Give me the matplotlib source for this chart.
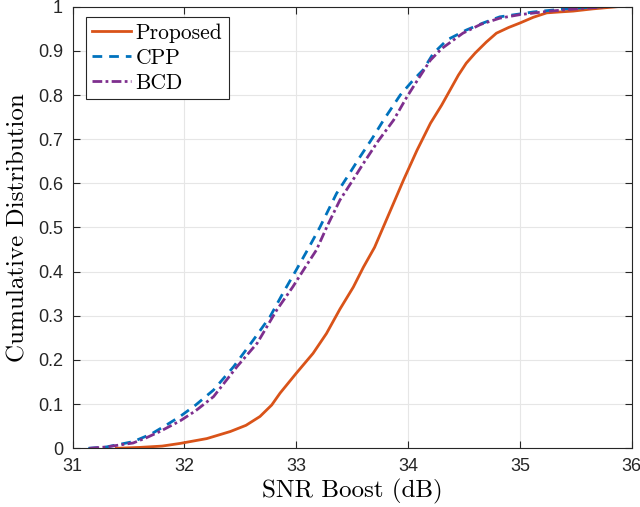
import matplotlib
matplotlib.use("Agg")
import matplotlib.pyplot as plt

# ---- data ----
proposed_x = [31.39, 31.6, 31.8, 31.96, 32.2, 32.41, 32.55, 32.675, 32.78, 32.855, 33.0, 33.15, 33.27,
              33.39, 33.51, 33.6, 33.7, 33.78, 33.87, 33.96, 34.08, 34.2, 34.3, 34.375, 34.45, 34.52,
              34.6, 34.7, 34.79, 34.9, 35.0, 35.12, 35.24, 35.35, 35.475, 35.65, 35.87]
proposed_y = [0.0, 0.002, 0.005, 0.011, 0.022, 0.038, 0.052, 0.072, 0.098, 0.125, 0.17, 0.215, 0.26,
              0.315, 0.365, 0.41, 0.455, 0.502, 0.555, 0.608, 0.675, 0.736, 0.777, 0.811, 0.845, 0.872,
              0.895, 0.92, 0.94, 0.953, 0.963, 0.976, 0.986, 0.988, 0.99, 0.995, 1.0]

cpp_x = [31.14, 31.3, 31.54, 31.7, 31.84, 31.96, 32.1, 32.26, 32.44, 32.615, 32.765, 32.88, 33.0,
         33.1, 33.21, 33.36, 33.47, 33.57, 33.68, 33.78, 33.93, 34.05, 34.135, 34.225, 34.35, 34.52,
         34.67, 34.82, 35.12, 35.4, 35.72]
cpp_y = [0.0, 0.003, 0.015, 0.032, 0.053, 0.072, 0.098, 0.132, 0.185, 0.245, 0.298, 0.351, 0.404,
         0.449, 0.5, 0.577, 0.62, 0.66, 0.702, 0.743, 0.8, 0.835, 0.857, 0.894, 0.925, 0.947,
         0.963, 0.977, 0.988, 0.995, 1.0]

bcd_x = [31.15, 31.3, 31.54, 31.66, 31.78, 31.96, 32.1, 32.26, 32.47, 32.65, 32.825, 32.97, 33.08,
         33.18, 33.28, 33.39, 33.5, 33.6, 33.73, 33.87, 33.99, 34.1, 34.2, 34.3, 34.49, 34.65,
         34.82, 35.0, 35.27, 35.5, 35.78]
bcd_y = [0.0, 0.003, 0.012, 0.024, 0.038, 0.062, 0.085, 0.117, 0.185, 0.238, 0.313, 0.366, 0.41,
         0.449, 0.505, 0.562, 0.605, 0.645, 0.695, 0.743, 0.796, 0.84, 0.879, 0.905, 0.94, 0.96,
         0.974, 0.982, 0.99, 0.995, 1.0]

xticks = [31, 32, 33, 34, 35, 36]
yticks = [0, 0.1, 0.2, 0.3, 0.4, 0.5, 0.6, 0.7, 0.8, 0.9, 1]
ytick_labels = ["0", "0.1", "0.2", "0.3", "0.4", "0.5", "0.6", "0.7", "0.8", "0.9", "1"]

# ---- figure ----
fig = plt.figure(figsize=(6.4, 5.07), dpi=100)
ax = fig.add_axes([0.1136, 0.1158, 0.8734, 0.871])

c_prop = "#D95319"
c_cpp = "#0072BD"
c_bcd = "#7E2F8E"

ax.plot(proposed_x, proposed_y, color=c_prop, lw=2.0, ls="-", label="Proposed")
ax.plot(cpp_x, cpp_y, color=c_cpp, lw=2.0, ls=(0, (3.5, 2.5)), label="CPP")
ax.plot(bcd_x, bcd_y, color=c_bcd, lw=2.0, ls=(0, (3.5, 1.2, 1.0, 1.2)), label="BCD")

ax.set_xlim(31, 36)
ax.set_ylim(0, 1)
ax.set_xticks(xticks)
ax.set_yticks(yticks)
ax.set_yticklabels(ytick_labels)
ax.grid(True, color="#e6e6e6", lw=0.8)
ax.set_axisbelow(True)

for s in ax.spines.values():
    s.set_color("#262626")
    s.set_linewidth(0.8)
ax.tick_params(direction="in", top=True, right=True, length=5, width=0.8,
               colors="#262626", labelsize=13, pad=7)
for lab in ax.get_xticklabels() + ax.get_yticklabels():
    lab.set_family(["Liberation Sans", "DejaVu Sans"])

ax.set_xlabel("SNR Boost (dB)", family="cmr10", fontsize=18, labelpad=3)
ax.set_ylabel("Cumulative Distribution", family="cmr10", fontsize=18, labelpad=6)

leg = ax.legend(loc="upper left", bbox_to_anchor=(0.0238, 0.9767), borderaxespad=0,
                prop={"family": "cmr10", "size": 15.5}, fancybox=False, framealpha=1,
                edgecolor="#262626", handlelength=1.8, handletextpad=0.2,
                labelspacing=0.25, borderpad=0.3)
leg.get_frame().set_linewidth(0.8)

fig.savefig("out.png", dpi=100)
